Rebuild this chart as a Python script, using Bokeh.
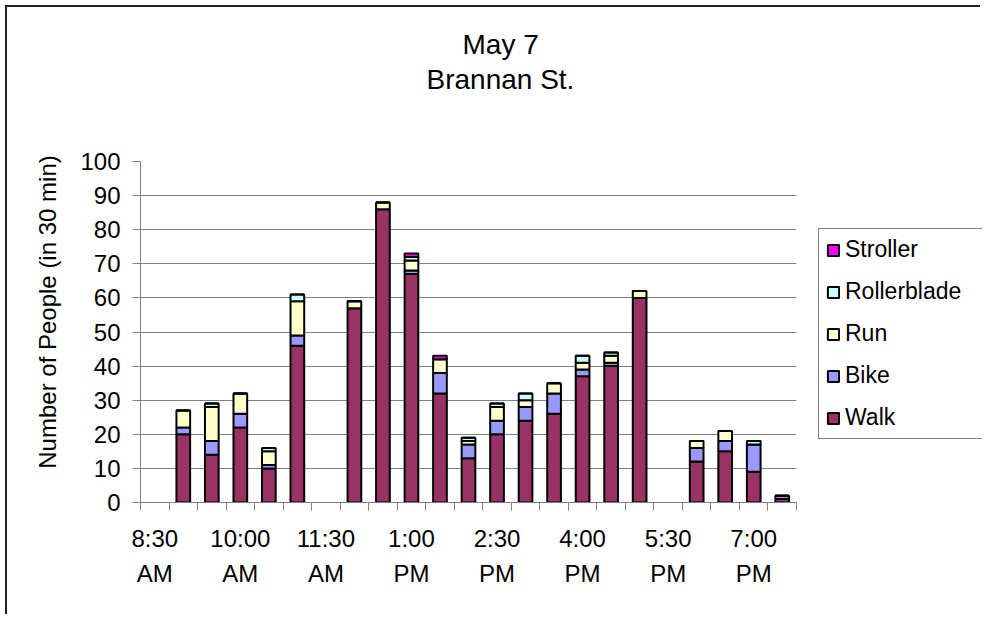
from bokeh.plotting import figure
from bokeh.models import ColumnDataSource, FixedTicker, Legend, LegendItem, Range1d, Title
from bokeh.embed import file_html
from bokeh.resources import INLINE

nan = float("nan")  # empty time slots (no bar drawn)
times = ["8:30 AM", "9:00 AM", "9:30 AM", "10:00 AM", "10:30 AM", "11:00 AM",
         "11:30 AM", "12:00 PM", "12:30 PM", "1:00 PM", "1:30 PM", "2:00 PM",
         "2:30 PM", "3:00 PM", "3:30 PM", "4:00 PM", "4:30 PM", "5:00 PM",
         "5:30 PM", "6:00 PM", "6:30 PM", "7:00 PM", "7:30 PM"]
walk        = [nan, 20, 14, 22, 10, 46, nan, 57, 86, 67, 32, 13, 20, 24, 26, 37, 40, 60, nan, 12, 15, 9, 1]
bike        = [0, 2, 4, 4, 1, 3, 0, 0, 0, 1, 6, 4, 4, 4, 6, 2, 1, 0, 0, 4, 3, 8, 1]
run         = [0, 5, 10, 6, 4, 10, 0, 2, 2, 3, 4, 1, 4, 2, 3, 2, 2, 2, 0, 2, 3, 0, 0]
rollerblade = [0, 0, 1, 0, 1, 2, 0, 0, 0, 1, 0, 1, 1, 2, 0, 2, 1, 0, 0, 0, 0, 1, 0]
stroller    = [0, 0, 0, 0, 0, 0, 0, 0, 0, 1, 1, 0, 0, 0, 0, 0, 0, 0, 0, 0, 0, 0, 0]
modes = ["Walk", "Bike", "Run", "Rollerblade", "Stroller"]
colors = ["#993366", "#9999FF", "#FFFFCC", "#CCFFFF", "#FF00FF"]
label_every = 3

FONT = "Liberation Sans"
W, H = 975, 609
LEFT, TOP, BOTTOM = 133, 154, 114
PLOT_W = 656            # width of the data area; legend area lies to its right
n = len(times)
extra = (W - LEFT - PLOT_W) / (PLOT_W / n)   # legend space in category units

x = list(range(n))
src = ColumnDataSource(dict(x=x, Walk=walk, Bike=bike, Run=run,
                            Rollerblade=rollerblade, Stroller=stroller))

p = figure(width=W, height=H, output_backend="svg", toolbar_location=None,
           x_range=Range1d(-0.5, n - 0.5 + extra), y_range=Range1d(0, 100),
           min_border_left=LEFT, min_border_right=0, min_border_top=TOP,
           min_border_bottom=BOTTOM, title=None)
p.styles = {"margin-left": "5px", "margin-top": "5px",
            "border-top": "2px solid #222222", "border-left": "2px solid #222222"}
p.outline_line_color = None

rs = p.vbar_stack(modes, x="x", width=0.48, source=src, fill_color=colors,
                  line_color="black", line_width=2)

# titles (added nearest-first): spacer, subtitle, title
spacer = Title(text=" ", text_font_size="10px", standoff=52)
sub = Title(text="Brannan St.", align="left", offset=286, text_font=FONT,
            text_font_size="28px", text_font_style="normal", text_color="black", standoff=4)
main = Title(text="May 7", align="left", offset=322, text_font=FONT,
             text_font_size="28px", text_font_style="normal", text_color="black", standoff=0)
p.add_layout(spacer, "above")
p.add_layout(sub, "above")
p.add_layout(main, "above")

# x axis
xa = p.xaxis[0]
xa.bounds = (-0.5, n - 0.5)
xa.ticker = FixedTicker(ticks=x[::label_every], minor_ticks=[i - 0.5 for i in range(n + 1)])
xa.major_label_overrides = {i: times[i].replace(" ", "\n") for i in x[::label_every]}
xa.major_tick_out = 0
xa.major_tick_in = 0
xa.minor_tick_out = 8
xa.minor_tick_in = 0
xa.minor_tick_line_color = "#808080"
xa.axis_line_color = "#808080"
xa.major_label_text_font = FONT
xa.major_label_text_font_size = "24px"
xa.major_label_text_color = "black"
xa.major_label_text_line_height = 1.3
xa.major_label_standoff = 14

# y axis
ya = p.yaxis[0]
ya.ticker = FixedTicker(ticks=list(range(0, 101, 10)))
ya.major_tick_out = 8
ya.major_tick_in = 0
ya.minor_tick_line_color = None
ya.major_tick_line_color = "#808080"
ya.axis_line_color = "#808080"
ya.major_label_text_font = FONT
ya.major_label_text_font_size = "24px"
ya.major_label_text_color = "black"
ya.major_label_standoff = 12
ya.axis_label = "\u00a0" * 6 + "Number of People (in 30 min)"
ya.axis_label_text_font = FONT
ya.axis_label_text_font_size = "24px"
ya.axis_label_text_font_style = "normal"
ya.axis_label_text_color = "black"
ya.axis_label_standoff = 16

p.xgrid.grid_line_color = None
p.ygrid.grid_line_color = "#808080"
p.ygrid.cross_bounds = (-0.5, n - 0.5)

items = [LegendItem(label=m, renderers=[r]) for m, r in zip(modes, rs)][::-1]
leg = Legend(items=items, location=(PLOT_W + 22, 63), margin=0)
leg.label_text_font = FONT
leg.label_text_font_size = "23px"
leg.label_text_color = "black"
leg.glyph_width = 14
leg.glyph_height = 14
leg.label_standoff = 5
leg.label_width = 200
leg.spacing = 15
leg.padding = 7
leg.border_line_color = "black"
leg.border_line_width = 1.5
leg.background_fill_alpha = 1
p.add_layout(leg, "center")

open("out.html", "w").write(file_html(p, INLINE))
